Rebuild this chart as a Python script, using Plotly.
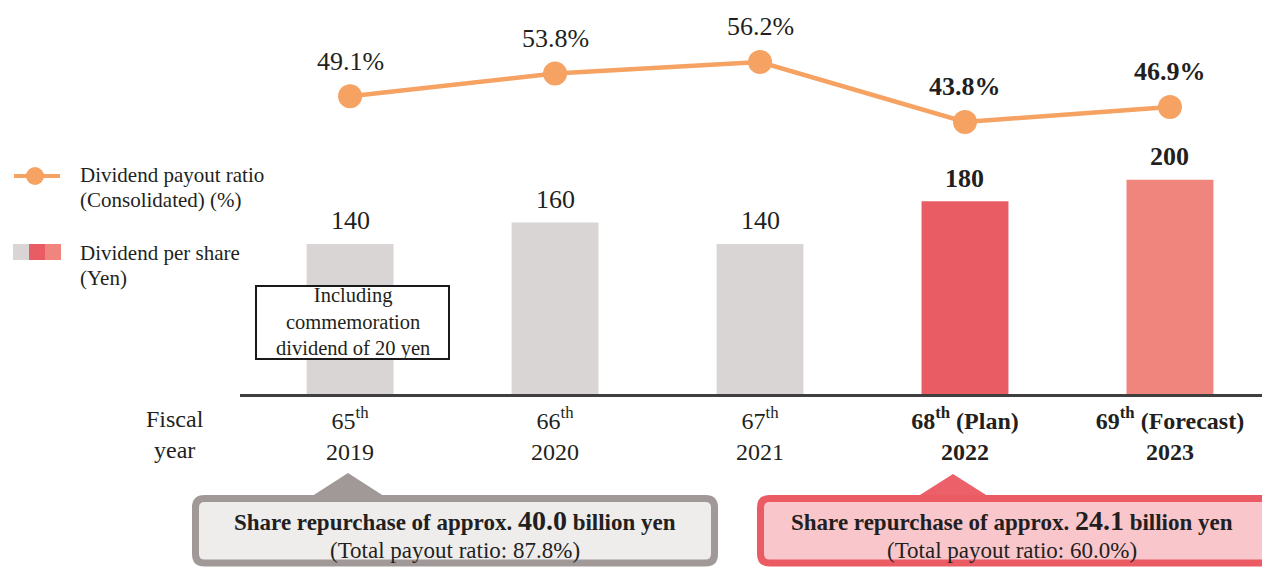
import plotly.graph_objects as go

# データ
categories = ["FY2019", "FY2020", "FY2021", "FY2022", "FY2023"]
ordinals = ["65", "66", "67", "68", "69"]
ordinal_notes = ["", "", "", " (Plan)", " (Forecast)"]
years = ["2019", "2020", "2021", "2022", "2023"]
dividend_per_share = [140, 160, 140, 180, 200]
payout_ratio = [49.1, 53.8, 56.2, 43.8, 46.9]
highlight = [False, False, False, True, True]
bar_colors = ["#D8D5D4", "#D8D5D4", "#D8D5D4", "#EA5C63", "#F0857D"]
repurchase_bn = [40.0, 24.1]
total_payout = [87.8, 60.0]

FONT = "Liberation Serif"
TEXT = "#231F20"
ORANGE = "#F5A262"
W, H = 1262, 568
L, B = 240, 174
PH = H - B


def px(x):
    return (x - L) / (W - L)


def py(y):
    return (PH - y) / PH


def rounded_rect(x0, y0, x1, y1, r=9):
    a, b, c, d = px(x0), py(y0), px(x1), py(y1)
    rx, ry = r / (W - L), r / PH
    return (
        f"M {a + rx},{b} L {c - rx},{b} Q {c},{b} {c},{b - ry} "
        f"L {c},{d + ry} Q {c},{d} {c - rx},{d} "
        f"L {a + rx},{d} Q {a},{d} {a},{d + ry} "
        f"L {a},{b - ry} Q {a},{b} {a + rx},{b} Z"
    )


def triangle(xa, ya, x0, x1, yb):
    return f"M {px(xa)},{py(ya)} L {px(x1)},{py(yb)} L {px(x0)},{py(yb)} Z"


def bold(s, on):
    return f"<b>{s}</b>" if on else s


tick_text = [
    bold(f"{o}<sup>th</sup>{n}<br>{y}", h)
    for o, n, y, h in zip(ordinals, ordinal_notes, years, highlight)
]

fig = go.Figure()

fig.add_trace(
    go.Bar(
        x=categories,
        y=dividend_per_share,
        marker=dict(color=bar_colors, line=dict(width=0)),
        width=0.424,
        showlegend=False,
        hoverinfo="skip",
    )
)

fig.add_trace(
    go.Scatter(
        x=categories,
        y=payout_ratio,
        yaxis="y2",
        mode="lines+markers",
        line=dict(color=ORANGE, width=4.5),
        marker=dict(color=ORANGE, size=24),
        showlegend=False,
        hoverinfo="skip",
    )
)

annotations = []

# 棒の値ラベル
for c, v, h in zip(categories, dividend_per_share, highlight):
    annotations.append(dict(
        x=c, y=v, xref="x", yref="y", text=bold(str(v), h),
        showarrow=False, yanchor="middle", yshift=23,
        font=dict(family=FONT, size=26, color=TEXT),
    ))

# 配当性向ラベル
for c, v, h in zip(categories, payout_ratio, highlight):
    annotations.append(dict(
        x=c, y=v, xref="x", yref="y2", text=bold(f"{v:.1f}%", h),
        showarrow=False, yanchor="middle", yshift=35,
        font=dict(family=FONT, size=26, color=TEXT),
    ))

# 凡例（手描き）
legend_font = dict(family=FONT, size=21, color=TEXT)
for text, y in [("Dividend payout ratio", 175), ("(Consolidated) (%)", 200),
                ("Dividend per share", 253), ("(Yen)", 278)]:
    annotations.append(dict(
        x=px(78), y=py(y), xref="paper", yref="paper", text=text,
        showarrow=False, xanchor="left", yanchor="middle", font=legend_font,
    ))

annotations.append(dict(
    x=px(175), y=py(435), xref="paper", yref="paper", text="Fiscal<br>year",
    showarrow=False, xanchor="center", yanchor="middle",
    font=dict(family=FONT, size=24, color=TEXT),
))

annotations.append(dict(
    x=px(352.5), y=py(322), xref="paper", yref="paper",
    text="Including<br>commemoration<br>dividend of 20 yen",
    showarrow=False, xanchor="center", yanchor="middle",
    font=dict(family=FONT, size=20.5, color=TEXT),
))

# 自社株買いボックスの文字
for cx, amount, ratio in [(455, repurchase_bn[0], total_payout[0]),
                          (1012, repurchase_bn[1], total_payout[1])]:
    annotations.append(dict(
        x=px(cx), y=py(520), xref="paper", yref="paper",
        text=("<b>Share repurchase of approx. "
              f"<span style='font-size:28px'>{amount:.1f}</span> billion yen</b>"),
        showarrow=False, xanchor="center", yanchor="middle",
        font=dict(family=FONT, size=23, color=TEXT),
    ))
    annotations.append(dict(
        x=px(cx), y=py(550), xref="paper", yref="paper",
        text=f"(Total payout ratio: {ratio:.1f}%)",
        showarrow=False, xanchor="center", yanchor="middle",
        font=dict(family=FONT, size=23, color=TEXT),
    ))

shapes = [
    # 凡例マーク
    dict(type="line", xref="paper", yref="paper", x0=px(14), x1=px(60),
         y0=py(176), y1=py(176), line=dict(color=ORANGE, width=4)),
    dict(type="circle", xref="paper", yref="paper", x0=px(26), x1=px(44),
         y0=py(185), y1=py(167), fillcolor=ORANGE, line=dict(width=0)),
    dict(type="rect", xref="paper", yref="paper", x0=px(13), x1=px(29),
         y0=py(260), y1=py(244), fillcolor=bar_colors[0], line=dict(width=0)),
    dict(type="rect", xref="paper", yref="paper", x0=px(29), x1=px(45),
         y0=py(260), y1=py(244), fillcolor=bar_colors[3], line=dict(width=0)),
    dict(type="rect", xref="paper", yref="paper", x0=px(45), x1=px(61),
         y0=py(260), y1=py(244), fillcolor=bar_colors[4], line=dict(width=0)),
    # 記念配当の注記
    dict(type="rect", xref="paper", yref="paper", x0=px(256), x1=px(449),
         y0=py(359), y1=py(286), fillcolor="white", line=dict(color="#1A1A1A", width=2)),
    # 自社株買いボックス
    dict(type="path", xref="paper", yref="paper", path=triangle(348, 473, 306, 390, 500),
         fillcolor="#A09998", line=dict(width=0)),
    dict(type="path", xref="paper", yref="paper", path=rounded_rect(195.5, 498.5, 714.5, 563),
         fillcolor="#EFEDEC", line=dict(color="#A09998", width=7)),
    dict(type="path", xref="paper", yref="paper", path=triangle(953, 474, 912, 994, 500),
         fillcolor="#EC6069", line=dict(width=0)),
    dict(type="path", xref="paper", yref="paper", path=rounded_rect(760.5, 498.5, 1290, 563),
         fillcolor="#F9C6CC", line=dict(color="#EB5B64", width=7)),
]

fig.update_layout(
    width=W,
    height=H,
    margin=dict(l=L, r=0, t=0, b=B),
    paper_bgcolor="white",
    plot_bgcolor="white",
    showlegend=False,
    xaxis=dict(
        type="category",
        range=[-0.537, 4.449],
        tickvals=categories,
        ticktext=tick_text,
        tickfont=dict(family=FONT, size=24, color=TEXT),
        ticklabelstandoff=3,
        showline=True,
        linecolor="#3F3F3F",
        linewidth=2.5,
        showgrid=False,
        ticks="",
        fixedrange=True,
    ),
    yaxis=dict(
        range=[0, 367.7],
        visible=False,
        showgrid=False,
        zeroline=False,
    ),
    yaxis2=dict(
        range=[-12.4, 69.0],
        overlaying="y",
        visible=False,
        showgrid=False,
        zeroline=False,
    ),
    annotations=annotations,
    shapes=shapes,
)

# ページ余白をなくして図を左上に揃える
fig.write_html(
    "out.html",
    config={"displayModeBar": False},
    post_script="document.body.style.margin='0';",
)
